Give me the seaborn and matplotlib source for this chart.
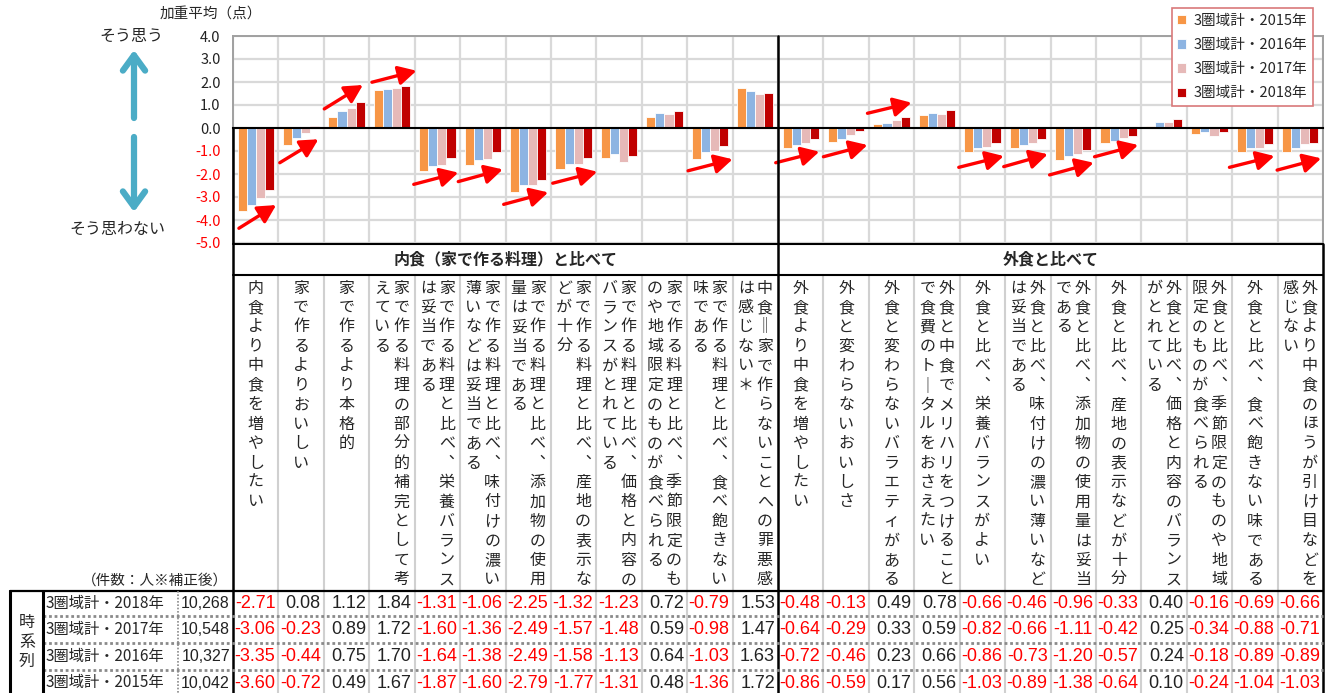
import numpy as np
import pandas as pd
import matplotlib
matplotlib.use("Agg")
import matplotlib.pyplot as plt
import seaborn as sns

# ---------------- data ----------------
categories = [
    "内食より中食を増やしたい",
    "家で作るよりおいしい",
    "家で作るより本格的",
    "家で作る料理の部分的補完として考えている",
    "家で作る料理と比べ、栄養バランスは妥当である",
    "家で作る料理と比べ、味付けの濃い薄いなどは妥当である",
    "家で作る料理と比べ、添加物の使用量は妥当である",
    "家で作る料理と比べ、産地の表示などが十分",
    "家で作る料理と比べ、価格と内容のバランスがとれている",
    "家で作る料理と比べ、季節限定のものや地域限定のものが食べられる",
    "家で作る料理と比べ、食べ飽きない味である",
    "中食＝家で作らないことへの罪悪感は感じない＊",
    "外食より中食を増やしたい",
    "外食と変わらないおいしさ",
    "外食と変わらないバラエティがある",
    "外食と中食でメリハリをつけることで食費のトータルをおさえたい",
    "外食と比べ、栄養バランスがよい",
    "外食と比べ、味付けの濃い薄いなどは妥当である",
    "外食と比べ、添加物の使用量は妥当である",
    "外食と比べ、産地の表示などが十分",
    "外食と比べ、価格と内容のバランスがとれている",
    "外食と比べ、季節限定のものや地域限定のものが食べられる",
    "外食と比べ、食べ飽きない味である",
    "外食より中食のほうが引け目などを感じない",
]
group_titles = ["内食（家で作る料理）と比べて", "外食と比べて"]
years = ["3圏域計・2015年", "3圏域計・2016年", "3圏域計・2017年", "3圏域計・2018年"]
counts = ["10,042", "10,327", "10,548", "10,268"]

v2015 = [-3.60, -0.72, 0.49, 1.67, -1.87, -1.60, -2.79, -1.77, -1.31, 0.48, -1.36, 1.72,
         -0.86, -0.59, 0.17, 0.56, -1.03, -0.89, -1.38, -0.64, 0.10, -0.24, -1.04, -1.03]
v2016 = [-3.35, -0.44, 0.75, 1.70, -1.64, -1.38, -2.49, -1.58, -1.13, 0.64, -1.03, 1.63,
         -0.72, -0.46, 0.23, 0.66, -0.86, -0.73, -1.20, -0.57, 0.24, -0.18, -0.89, -0.89]
v2017 = [-3.06, -0.23, 0.89, 1.72, -1.60, -1.36, -2.49, -1.57, -1.48, 0.59, -0.98, 1.47,
         -0.64, -0.29, 0.33, 0.59, -0.82, -0.66, -1.11, -0.42, 0.25, -0.34, -0.88, -0.71]
v2018 = [-2.71, 0.08, 1.12, 1.84, -1.31, -1.06, -2.25, -1.32, -1.23, 0.72, -0.79, 1.53,
         -0.48, -0.13, 0.49, 0.78, -0.66, -0.46, -0.96, -0.33, 0.40, -0.16, -0.69, -0.66]
series = [v2015, v2016, v2017, v2018]

yticks = [4, 3, 2, 1, 0, -1, -2, -3, -4, -5]
colors = ["#F79646", "#8DB4E2", "#E6B9B8", "#C00000"]

# red trend arrows (annotation): x0, y0, x1, y1 in data units
trend_arrows = [
    (-0.37, -4.36, 0.45, -3.35), (0.53, -1.51, 1.38, -0.49), (1.51, 0.83, 2.36, 1.87),
    (2.56, 1.99, 3.54, 2.49), (3.48, -2.45, 4.46, -1.94), (4.46, -2.33, 5.44, -1.80),
    (5.46, -3.32, 6.44, -2.80), (6.54, -2.40, 7.52, -1.90), (9.52, -1.86, 10.5, -1.36),
    (11.45, -1.51, 12.41, -1.03), (12.5, -1.25, 13.47, -0.74), (13.47, 0.64, 14.44, 1.10),
    (15.48, -1.71, 16.47, -1.22), (16.47, -1.68, 17.44, -1.14), (17.48, -2.04, 18.45, -1.51),
    (18.47, -1.25, 19.43, -0.74), (21.44, -1.71, 22.43, -1.22), (22.49, -1.83, 23.46, -1.32),
]

# ---------------- figure ----------------
sns.set_style("white")
plt.rcParams["font.family"] = ["Noto Sans CJK JP", "DejaVu Sans"]
NUMFONT = ["Liberation Sans Narrow", "Liberation Sans", "DejaVu Sans"]

W, H = 1333, 693
X0, X1 = 233, 1323
NCOL = len(categories)
COLW = (X1 - X0) / NCOL
YTOP, YBOT = 36, 243

fig = plt.figure(figsize=(W / 100, H / 100), dpi=100)
ax = fig.add_axes([X0 / W, 1 - YBOT / H, (X1 - X0) / W, (YBOT - YTOP) / H])

df = pd.DataFrame({
    "cat": np.repeat([categories], len(years), axis=0).ravel(),
    "year": np.repeat(years, NCOL),
    "value": np.concatenate(series),
})
sns.barplot(data=df, x="cat", y="value", hue="year", order=categories, hue_order=years,
            palette=colors, saturation=1, width=0.8, errorbar=None, edgecolor="white",
            linewidth=0.6, ax=ax, zorder=3)
handles, labels = ax.get_legend_handles_labels()
if ax.get_legend() is not None:
    ax.get_legend().remove()

ax.set_xlim(-0.5, NCOL - 0.5)
ax.set_ylim(min(yticks), max(yticks))
ax.set_xlabel("")
ax.set_ylabel("")
ax.set_xticks(np.arange(-0.5, NCOL, 1.0))
ax.set_xticklabels([])
ax.set_yticks(yticks)
ax.set_yticklabels([f"{t:.1f}" for t in yticks], fontsize=10.5)
for lab, t in zip(ax.get_yticklabels(), yticks):
    lab.set_color("#FF0000" if t < 0 else "#222222")
ax.tick_params(axis="y", length=0, pad=9)
ax.tick_params(axis="x", direction="inout", length=7, width=1.3, color="black")
ax.grid(True, color="#D9D9D9", lw=1.6)
ax.set_axisbelow(True)
for s in ["top", "right", "left"]:
    ax.spines[s].set_color("#A0A0A0")
    ax.spines[s].set_linewidth(1.4)
ax.spines["bottom"].set_position(("data", 0))
ax.spines["bottom"].set_color("black")
ax.spines["bottom"].set_linewidth(1.5)
ax.spines["bottom"].set_zorder(4)

for x0, y0, x1, y1 in trend_arrows:
    ax.annotate("", xy=(x1, y1), xytext=(x0, y0),
                arrowprops=dict(arrowstyle="-|>,head_length=0.6,head_width=0.32",
                                color="#FF0000", lw=2.4, mutation_scale=18,
                                shrinkA=0, shrinkB=0),
                annotation_clip=False, zorder=6)

leg = fig.legend(handles, labels, loc="upper right",
                 bbox_to_anchor=(1313 / W, 1 - 8 / H), bbox_transform=fig.transFigure,
                 fontsize=10.5, frameon=True, fancybox=False, framealpha=1,
                 edgecolor="#D9797A", handlelength=0.6, handleheight=0.6,
                 handletextpad=0.5, labelspacing=0.70, borderpad=0.4, borderaxespad=0)
leg.get_frame().set_linewidth(1.2)

# ---------------- overlay (pixel coordinates) ----------------
ov = fig.add_axes([0, 0, 1, 1], zorder=5)
ov.set_xlim(0, W)
ov.set_ylim(H, 0)
ov.axis("off")
ov.patch.set_alpha(0)

ov.text(160, 15, "加重平均（点）", fontsize=10.5, ha="left", va="center")
ov.text(131, 36, "そう思う", fontsize=11.5, ha="center", va="center")
ov.text(117, 229, "そう思わない", fontsize=11.5, ha="center", va="center")
for (ya, yb) in [(118, 50), (137, 212)]:
    ov.annotate("", xy=(134, yb), xytext=(134, ya),
                arrowprops=dict(arrowstyle="->,head_length=0.55,head_width=0.4",
                                color="#4BACC6", lw=4.5, mutation_scale=20,
                                shrinkA=0, shrinkB=0))

XDIV = X0 + COLW * 12
HDR_T, HDR_B = 244, 275
TB_T = 591
ROW_Y = [616, 643, 670]
ROW_C = [603.5, 629.5, 656.5, 683]

# header box
ov.plot([X0, X1], [HDR_T, HDR_T], color="black", lw=1.5)
ov.plot([X0, X1], [HDR_B, HDR_B], color="black", lw=1.5)
ov.text((X0 + XDIV) / 2, 259.5, group_titles[0], fontsize=11.5, weight="bold",
        ha="center", va="center")
ov.text((XDIV + X1) / 2, 259.5, group_titles[1], fontsize=11.5, weight="bold",
        ha="center", va="center")

# column separators
for i in range(1, NCOL):
    if i == 12:
        continue
    xx = X0 + COLW * i
    ov.plot([xx, xx], [HDR_B, H], color="#D0D0D0", lw=1.5, zorder=1)
ov.plot([X0, X0], [128, H], color="black", lw=1.8)
ov.plot([XDIV, XDIV], [YTOP, H], color="black", lw=1.8)
ov.plot([X1, X1], [HDR_T, H], color="black", lw=1.8)

# vertical column labels
vmap = {"、": "︑", "＝": "‖", "ー": "｜"}
for i, cat in enumerate(categories):
    cx = X0 + COLW * (i + 0.5)
    lines = [cat[j:j + 16] for j in range(0, len(cat), 16)]
    xs = [cx] if len(lines) == 1 else [cx + 9.5, cx - 9.5]
    for line, lx in zip(lines, xs):
        for k, ch in enumerate(line):
            ov.text(lx, 288 + 19.45 * k, vmap.get(ch, ch), fontsize=11.5,
                    ha="center", va="center")

# table
ov.text(228, 581, "（件数：人※補正後）", fontsize=10.5, ha="right", va="center")
ov.plot([10, X1], [TB_T, TB_T], color="black", lw=1.6)
for yy in ROW_Y:
    ov.plot([43, X1], [yy, yy], color="#8A8A8A", lw=2.0, ls=(0, (1, 1)))
ov.plot([10, 10], [TB_T, H], color="black", lw=2.2)
ov.plot([43, 43], [TB_T, H], color="black", lw=2.2)
ov.plot([178, 178], [TB_T, H], color="#8A8A8A", lw=1.2, ls=(0, (1, 1)))
for k, ch in enumerate("時系列"):
    ov.text(27, 623 + 19 * k, ch, fontsize=11.5, ha="center", va="center")

for r, yi in enumerate(range(len(years) - 1, -1, -1)):
    yc = ROW_C[r]
    ov.text(46, yc, years[yi], fontsize=11, ha="left", va="center")
    ov.text(230, yc, counts[yi], fontsize=11.5, ha="right", va="center",
            family=NUMFONT, color="#222222")
    for i, v in enumerate(series[yi]):
        ov.text(X0 + COLW * (i + 1) - 3, yc, f"{v:.2f}", fontsize=13, ha="right",
                va="center", family=NUMFONT,
                color="#FF0000" if v < 0 else "#222222")

fig.savefig("out.png", dpi=100)
